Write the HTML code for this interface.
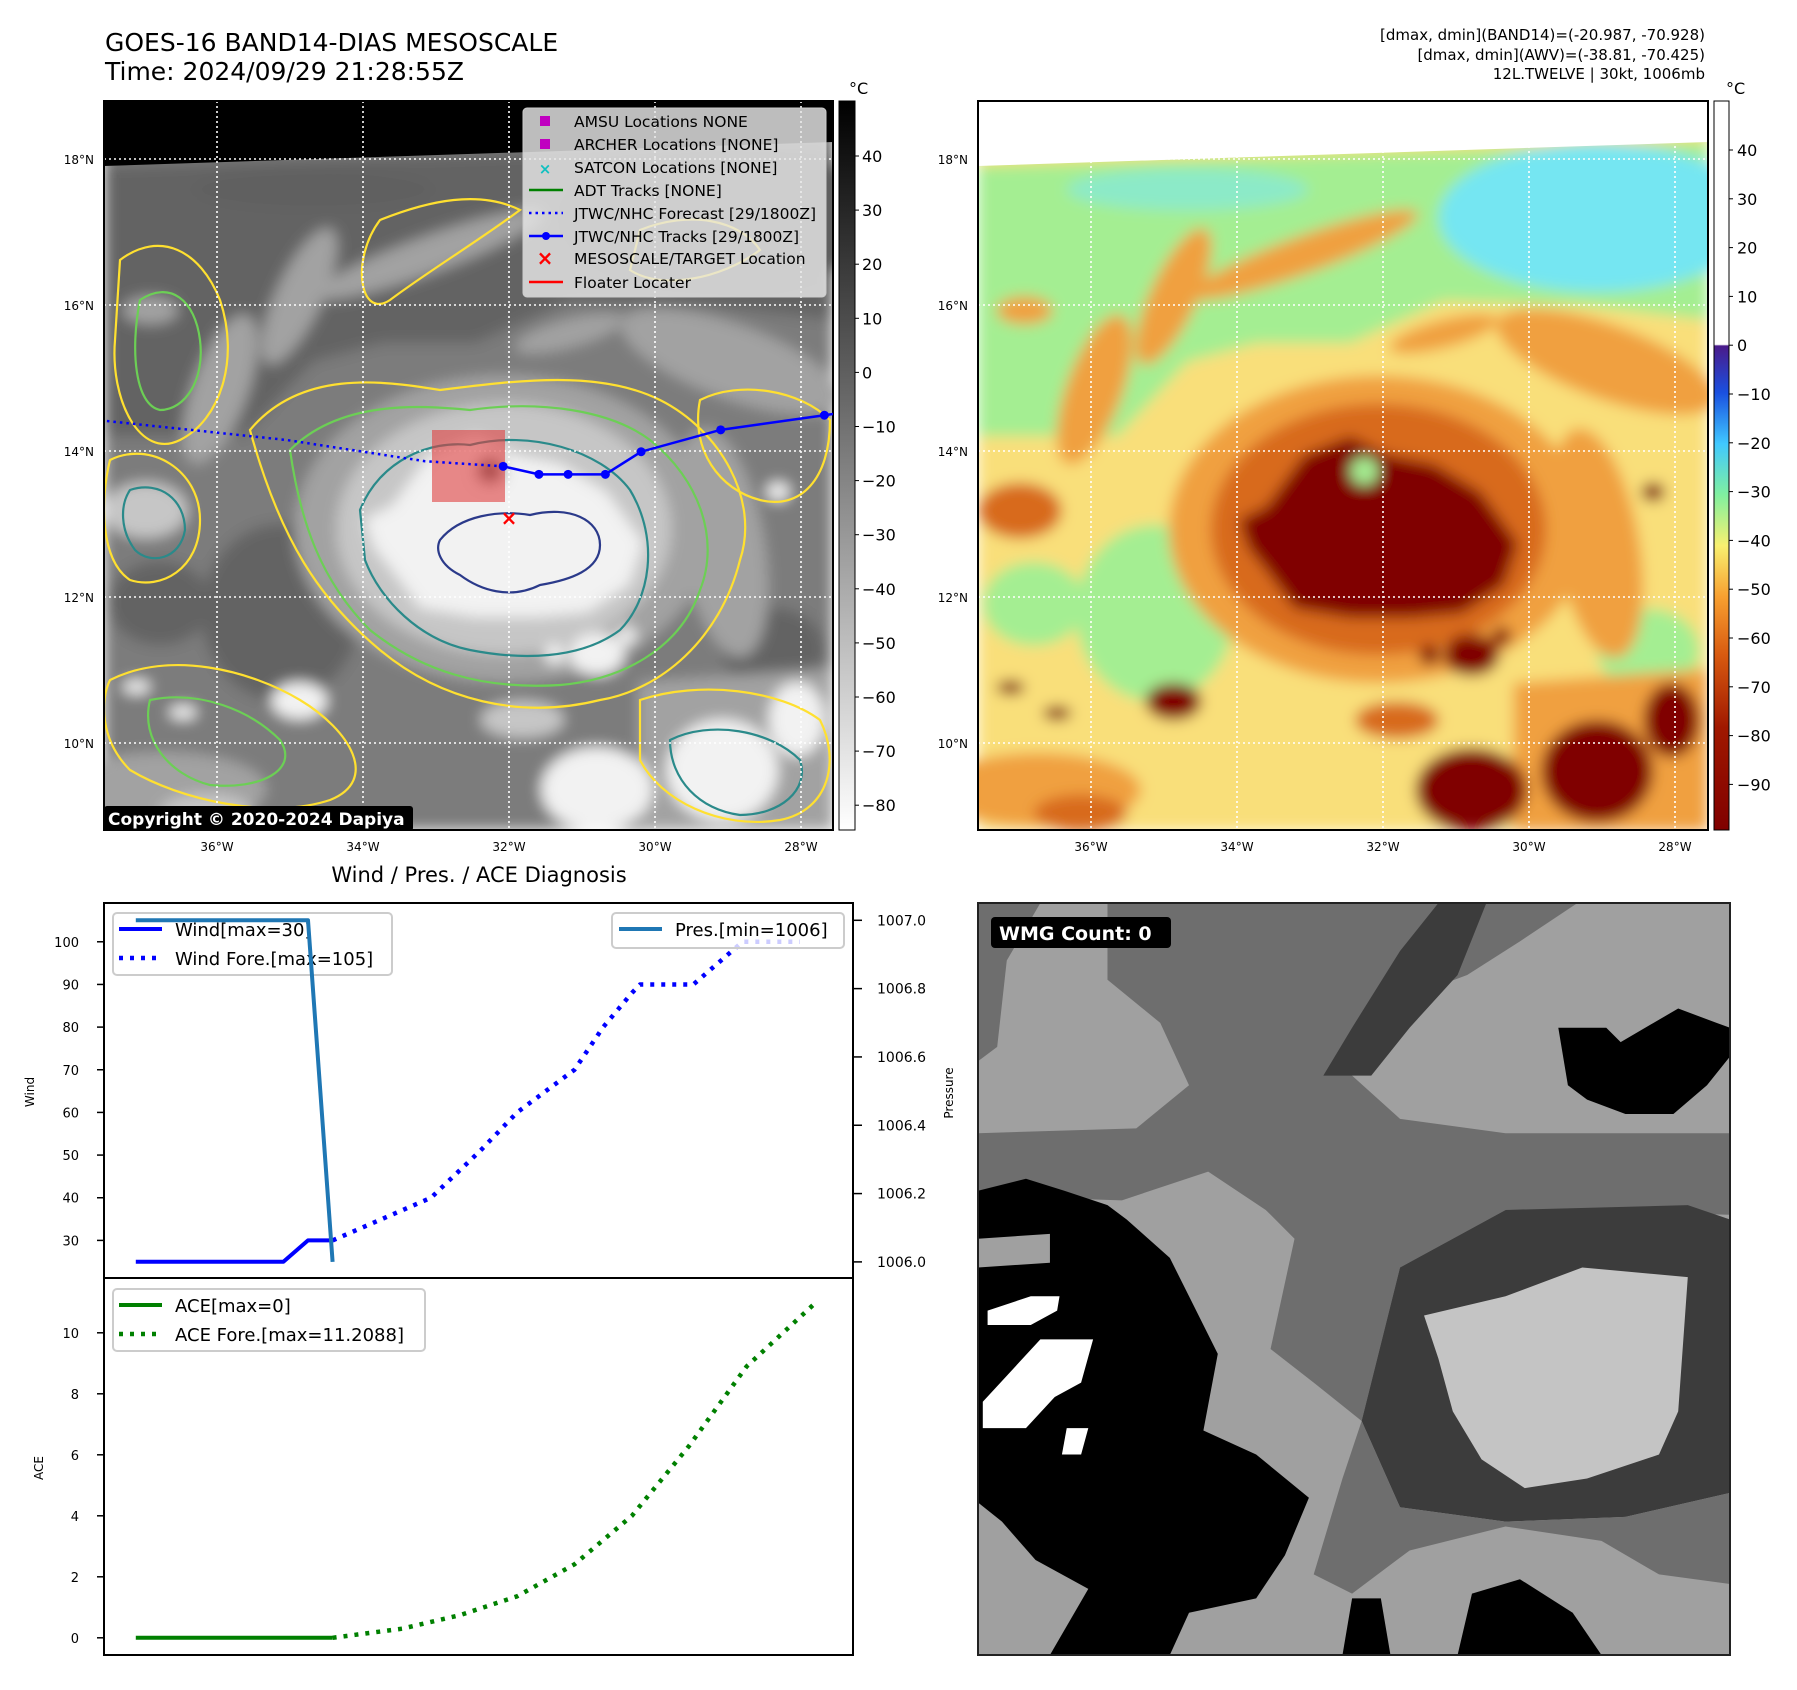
<!DOCTYPE html>
<html><head><meta charset="utf-8">
<style>
html,body{margin:0;padding:0;background:#fff;}
svg{display:block;font-family:"DejaVu Sans","Liberation Sans",sans-serif;}
</style></head>
<body>
<svg id="fig" width="1797" height="1690" viewBox="0 0 1797 1690" xmlns="http://www.w3.org/2000/svg">
<defs>
  <clipPath id="clipM1"><rect x="104" y="101" width="729" height="729"/></clipPath>
  <clipPath id="clipM2"><rect x="978" y="101" width="730" height="729"/></clipPath>
  <clipPath id="clipBR"><rect x="978" y="903" width="752" height="752"/></clipPath>
  <clipPath id="clipW"><rect x="104" y="903" width="749" height="375"/></clipPath>
  <clipPath id="clipA"><rect x="104" y="1278" width="749" height="377"/></clipPath>
  <filter id="blur" x="-5%" y="-5%" width="110%" height="110%"><feGaussianBlur stdDeviation="7"/></filter>
  <linearGradient id="cb1" x1="0" y1="0" x2="0" y2="1">
    <stop offset="0" stop-color="#000"/><stop offset="1" stop-color="#fff"/>
  </linearGradient>
  <linearGradient id="cb2" x1="0" y1="0" x2="0" y2="1">
    <stop offset="0" stop-color="#fff"/>
    <stop offset="0.334" stop-color="#fff"/>
    <stop offset="0.336" stop-color="#4a1a8a"/>
    <stop offset="0.40" stop-color="#1a50e0"/>
    <stop offset="0.47" stop-color="#40c8ff"/>
    <stop offset="0.54" stop-color="#80f0a0"/>
    <stop offset="0.61" stop-color="#f8f070"/>
    <stop offset="0.68" stop-color="#f8a030"/>
    <stop offset="0.76" stop-color="#d85a10"/>
    <stop offset="0.86" stop-color="#a01800"/>
    <stop offset="1" stop-color="#800000"/>
  </linearGradient>
</defs>

<text x="105" y="51" font-size="25">GOES-16 BAND14-DIAS MESOSCALE</text>
<text x="105" y="80" font-size="25">Time: 2024/09/29 21:28:55Z</text>
<text x="1705" y="40" font-size="15" text-anchor="end">[dmax, dmin](BAND14)=(-20.987, -70.928)</text>
<text x="1705" y="60" font-size="15" text-anchor="end">[dmax, dmin](AWV)=(-38.81, -70.425)</text>
<text x="1705" y="79" font-size="15" text-anchor="end">12L.TWELVE | 30kt, 1006mb</text>

<g>
  <g clip-path="url(#clipM1)"><g id="m1img" filter="url(#blur)"></g><g id="m1top"></g><g id="m1cont"></g><g id="m1grid"></g></g>
  <rect x="104" y="101" width="729" height="729" fill="none" stroke="#000" stroke-width="2"/>
</g>
<g>
  <g clip-path="url(#clipM2)"><g id="m2img" filter="url(#blur)"></g><g id="m2top"></g><g id="m2grid"></g></g>
  <rect x="978" y="101" width="730" height="729" fill="none" stroke="#000" stroke-width="2"/>
</g>
<g id="axlabels"></g>

<rect x="839" y="101" width="16" height="729" fill="url(#cb1)" stroke="#000" stroke-width="1"/>
<text x="849" y="94" font-size="16">°C</text>
<rect x="1714" y="101" width="15" height="729" fill="url(#cb2)" stroke="#000" stroke-width="1"/>
<text x="1726" y="94" font-size="16">°C</text>
<g id="cbticks"></g>

<g clip-path="url(#clipM1)" id="trackg"></g>

<g>
  <rect x="523" y="108" width="303" height="189" rx="4" fill="#e6e6e6" fill-opacity="0.82" stroke="#ccc"/>
  <rect x="540" y="116" width="10" height="10" fill="#c000c0"/>
  <text x="574" y="127" font-size="15.5">AMSU Locations NONE</text>
  <rect x="540" y="139" width="10" height="10" fill="#c000c0"/>
  <text x="574" y="150" font-size="15.5">ARCHER Locations [NONE]</text>
  <text x="545" y="174" font-size="15" fill="#10c0c0" text-anchor="middle" font-weight="bold">×</text>
  <text x="574" y="173" font-size="15.5">SATCON Locations [NONE]</text>
  <line x1="529" y1="190" x2="563" y2="190" stroke="#008000" stroke-width="2.5"/>
  <text x="574" y="196" font-size="15.5">ADT Tracks [NONE]</text>
  <line x1="529" y1="213" x2="563" y2="213" stroke="#0000ff" stroke-width="2.5" stroke-dasharray="2.5 4"/>
  <text x="574" y="219" font-size="15.5">JTWC/NHC Forecast [29/1800Z]</text>
  <line x1="529" y1="236" x2="563" y2="236" stroke="#0000ff" stroke-width="2.5"/>
  <circle cx="546" cy="236" r="4" fill="#0000ff"/>
  <text x="574" y="242" font-size="15.5">JTWC/NHC Tracks [29/1800Z]</text>
  <text x="545" y="265" font-size="20" fill="#ff0000" text-anchor="middle" font-weight="bold">×</text>
  <text x="574" y="264" font-size="15.5">MESOSCALE/TARGET Location</text>
  <line x1="529" y1="282" x2="563" y2="282" stroke="#ff0000" stroke-width="2.5"/>
  <text x="574" y="288" font-size="15.5">Floater Locater</text>
</g>
<g>
  <rect x="104" y="806" width="309" height="25" rx="3" fill="#000"/>
  <text x="108" y="825" font-size="17" font-weight="bold" fill="#fff">Copyright © 2020-2024 Dapiya</text>
</g>

<g>
  <g clip-path="url(#clipBR)"><g id="brimg"></g></g>
  <rect x="978" y="903" width="752" height="752" fill="none" stroke="#222" stroke-width="2"/>
  <rect x="991" y="917" width="180" height="31" rx="4" fill="#000"/>
  <text x="999" y="940" font-size="19" font-weight="bold" fill="#fff">WMG Count: 0</text>
</g>

<text x="479" y="882" font-size="21" text-anchor="middle">Wind / Pres. / ACE Diagnosis</text>
<g id="charts"></g>
</svg>

<script>
// ---- Chart data ----
const histHours = [-48, -42, -36, -30, -24, -18, -12, -6, 0];
const histWind = [25, 25, 25, 25, 25, 25, 25, 30, 30];
const presHours = [-48, -6, 0];
const presVals = [1007.0, 1007.0, 1006.0];
const foreHours = [0, 12, 24, 36, 45, 59, 66, 73, 75, 88, 100, 114];
const foreWind = [30, 35, 40, 51, 60, 70, 80, 88, 90, 90, 100, 100];
const aceHistHours = [-48, 0];
const aceHistVals = [0, 0];
const aceForeHours = [0, 17, 31, 45, 59, 73, 87, 101, 117.5];
const aceForeVals = [0, 0.3, 0.74, 1.36, 2.41, 4.0, 6.3, 8.9, 10.95];
const windTicks = [30, 40, 50, 60, 70, 80, 90, 100];
const presTicks = [1006.0, 1006.2, 1006.4, 1006.6, 1006.8, 1007.0];
const aceTicks = [0, 2, 4, 6, 8, 10];
const cb1Ticks = [40, 30, 20, 10, 0, -10, -20, -30, -40, -50, -60, -70, -80];
const cb2Ticks = [40, 30, 20, 10, 0, -10, -20, -30, -40, -50, -60, -70, -80, -90];
const lonTicks = [-36, -34, -32, -30, -28];
const latTicks = [18, 16, 14, 12, 10];
const trackLon = [-32.08, -31.59, -31.19, -30.68, -30.19, -29.10, -27.68, -26.9];
const trackLat = [13.79, 13.68, 13.68, 13.68, 13.99, 14.29, 14.49, 14.6];
const foreLon = [-32.08, -33.15, -35.04, -37.6];
const foreLat = [13.79, 13.86, 14.15, 14.42];

const NS = 'http://www.w3.org/2000/svg';
function mk(parent, tag, attrs, txt) {
  const el = document.createElementNS(NS, tag);
  for (const k in attrs) el.setAttribute(k, attrs[k]);
  if (txt !== undefined) el.textContent = txt;
  parent.appendChild(el);
  return el;
}
const xT = t => 332.6 + 4.10 * t;
const yW = w => 1240.4 - (w - 30) * 4.266;
const yP = p => 1261.9 - (p - 1006) * 341.6;
const yA = a => 1637.8 - a * 30.5;
const lonX1 = lon => 509 + (lon + 32) * 73;
const latY = lat => 451 - (lat - 14) * 73;
const cb1Y = v => 156 + (40 - v) * 5.41;
const cb2Y = v => 150 + (40 - v) * 4.88;

const shapes = [
  ['rect', {x:0,y:0,width:1568,height:1568}, 'Y'],
  ['polygon', {points:'0,140 1568,88 1568,470 1300,440 1000,430 800,520 600,520 450,560 300,720 0,720'}, 'G'],
  ['ellipse', {cx:1330,cy:250,rx:340,ry:160}, 'C'],
  ['ellipse', {cx:450,cy:190,rx:260,ry:45}, 'T'],
  ['ellipse', {cx:700,cy:330,rx:260,ry:40,transform:'rotate(-20 700 330)'}, 'O'],
  ['ellipse', {cx:420,cy:420,rx:50,ry:160,transform:'rotate(25 420 420)'}, 'O'],
  ['ellipse', {cx:250,cy:620,rx:60,ry:170,transform:'rotate(20 250 620)'}, 'O'],
  ['ellipse', {cx:1350,cy:560,rx:250,ry:80,transform:'rotate(20 1350 560)'}, 'O'],
  ['ellipse', {cx:100,cy:450,rx:60,ry:30}, 'O'],
  ['ellipse', {cx:1000,cy:500,rx:120,ry:30,transform:'rotate(-15 1000 500)'}, 'O'],
  ['ellipse', {cx:380,cy:1100,rx:170,ry:190}, 'G'],
  ['ellipse', {cx:120,cy:1080,rx:110,ry:90}, 'G'],
  ['ellipse', {cx:1440,cy:1180,rx:110,ry:90}, 'G'],
  ['ellipse', {cx:860,cy:920,rx:450,ry:330}, 'O'],
  ['ellipse', {cx:860,cy:920,rx:360,ry:270}, 'D'],
  ['polygon', {points:'1150,1250 1568,1220 1568,1568 1150,1568'}, 'O'],
  ['ellipse', {cx:130,cy:1480,rx:220,ry:80}, 'O'],
  ['ellipse', {cx:1330,cy:950,rx:90,ry:250,transform:'rotate(-10 1330 950)'}, 'O'],
  ['polygon', {points:'560,900 620,870 700,760 800,720 880,760 980,780 1080,840 1160,950 1130,1040 1040,1100 930,1110 800,1110 680,1090 620,1010 580,960'}, 'R'],
  ['circle', {cx:830,cy:795,r:30}, 'G'],
  ['ellipse', {cx:90,cy:880,rx:90,ry:60}, 'D'],
  ['ellipse', {cx:1060,cy:1190,rx:60,ry:45}, 'R'],
  ['circle', {cx:1125,cy:1150,r:20}, 'R'],
  ['circle', {cx:970,cy:1190,r:22}, 'R'],
  ['ellipse', {cx:420,cy:1290,rx:60,ry:40}, 'R'],
  ['ellipse', {cx:170,cy:1315,rx:30,ry:15}, 'R'],
  ['ellipse', {cx:70,cy:1260,rx:30,ry:15}, 'R'],
  ['ellipse', {cx:900,cy:1330,rx:90,ry:40}, 'D'],
  ['ellipse', {cx:1060,cy:1480,rx:120,ry:90}, 'R'],
  ['ellipse', {cx:1330,cy:1440,rx:120,ry:110}, 'R'],
  ['ellipse', {cx:1490,cy:1330,rx:60,ry:80}, 'R'],
  ['ellipse', {cx:220,cy:1530,rx:100,ry:40}, 'D'],
  ['ellipse', {cx:1450,cy:840,rx:25,ry:20}, 'R']
];
const pal2 = {C:'#74e6f2', T:'#8ceac8', G:'#a4ee92', Y:'#f9df7a', O:'#f0a040', D:'#d86a1c', R:'#800000'};
const pal1 = {C:'#5e5e5e', T:'#606060', G:'#646464', Y:'#7c7c7c', O:'#a2a2a2', D:'#c6c6c6', R:'#f2f2f2'};

function drawImagery(gid, ox, oy, sc, pal) {
  const g = document.getElementById(gid);
  const inner = mk(g, 'g', {transform:`translate(${ox},${oy}) scale(${sc})`});
  shapes.forEach(s => {
    const el = mk(inner, s[0], Object.assign({}, s[1], {fill: pal[s[2]]}));
    
    
  });
}
drawImagery('m1img', 104, 101, 729/1568, pal1);
drawImagery('m2img', 978, 101, 730/1568, pal2);
let topEl = mk(document.getElementById('m1top'), 'polygon', {points:'104,101 833,101 833,142 104,166', fill:'#000'});


topEl = mk(document.getElementById('m2top'), 'polygon', {points:'978,101 1708,101 1708,142 978,166', fill:'#fff'});



const contours = [
  ['#ffe030', 'M250,430 C300,370 380,380 440,390 C520,380 600,370 660,400 C720,430 760,500 740,560 C720,640 660,690 600,700 C520,720 440,700 380,650 C320,600 280,540 250,430 Z'],
  ['#6ccf55', 'M290,450 C340,400 420,405 470,410 C540,400 610,410 650,440 C700,480 720,540 700,590 C680,650 620,680 560,685 C480,690 420,670 370,630 C320,580 300,520 290,450 Z'],
  ['#2a8a8a', 'M360,510 C380,460 430,440 470,445 C530,430 600,450 630,490 C660,540 650,600 620,630 C580,660 520,660 470,650 C420,640 380,600 365,560 Z'],
  ['#2b3a8a', 'M440,540 C460,515 500,510 530,515 C570,505 600,520 600,545 C600,570 570,580 540,585 C510,600 480,590 460,575 C440,565 435,550 440,540 Z'],
  ['#ffe030', 'M120,260 C160,230 200,250 220,300 C240,360 220,420 180,440 C140,460 110,400 115,340 Z'],
  ['#6ccf55', 'M140,300 C170,280 195,300 200,340 C205,380 185,410 160,410 C135,405 130,350 140,300 Z'],
  ['#ffe030', 'M380,220 C430,200 480,190 520,210 C480,240 430,270 390,300 C360,320 350,260 380,220 Z'],
  ['#ffe030', 'M640,230 C690,210 740,220 760,250 C720,280 660,290 630,270 Z'],
  ['#ffe030', 'M110,680 C170,650 250,670 300,700 C350,730 380,780 330,800 C270,820 180,800 130,770 C100,740 100,700 110,680 Z'],
  ['#6ccf55', 'M150,700 C200,690 250,710 280,740 C300,770 260,790 210,785 C170,775 140,740 150,700 Z'],
  ['#ffe030', 'M640,700 C700,680 780,690 820,720 C840,760 830,810 780,820 C720,830 660,800 640,760 Z'],
  ['#2a8a8a', 'M670,740 C710,720 770,730 800,760 C810,790 780,815 740,815 C700,810 670,780 670,740 Z'],
  ['#ffe030', 'M700,400 C740,380 800,390 830,420 C830,480 800,510 760,500 C720,490 690,450 700,400 Z'],
  ['#ffe030', 'M110,460 C150,440 200,470 200,520 C200,570 160,590 130,580 C100,560 100,500 110,460 Z'],
  ['#2a8a8a', 'M130,490 C160,480 185,500 185,530 C180,560 150,565 135,550 C120,530 120,505 130,490 Z']
];
const cg = document.getElementById('m1cont');
contours.forEach(c => {
  const el = mk(cg, 'path', {d:c[1], fill:'none', stroke:c[0], 'stroke-width':2.2});
  
  
});

function grid(gid, ox) {
  const g = document.getElementById(gid);
  lonTicks.forEach(lon => {
    const x = lonX1(lon) + ox;
    const el = mk(g, 'line', {x1:x, y1:101, x2:x, y2:830, stroke:'#fff', 'stroke-width':1.6, 'stroke-dasharray':'2 3'});
    
    
  });
  latTicks.forEach(lat => {
    const y = latY(lat);
    const el = mk(g, 'line', {x1:104+ox, y1:y, x2:833+ox, y2:y, stroke:'#fff', 'stroke-width':1.6, 'stroke-dasharray':'2 3'});
    
    
  });
}
grid('m1grid', 0);
grid('m2grid', 874);
const al = document.getElementById('axlabels');
[0, 874].forEach(ox => {
  lonTicks.forEach(lon => {
    const el = mk(al, 'text', {x:lonX1(lon)+ox, y:851, 'font-size':12, 'text-anchor':'middle'}, Math.abs(lon) + '°W');
    
    
  });
  latTicks.forEach(lat => {
    const el = mk(al, 'text', {x:98+ox-4, y:latY(lat)+5, 'font-size':12, 'text-anchor':'end'}, lat + '°N');
    
    
  });
});
const cbt = document.getElementById('cbticks');
cb1Ticks.forEach(v => {
  const y = cb1Y(v);
  mk(cbt, 'line', {x1:855, y1:y, x2:859, y2:y, stroke:'#000', 'stroke-width':1});
  const el = mk(cbt, 'text', {x:862, y:y+6, 'font-size':16}, v < 0 ? '\u2212' + Math.abs(v) : String(v));
  
  
});
cb2Ticks.forEach(v => {
  const y = cb2Y(v);
  mk(cbt, 'line', {x1:1729, y1:y, x2:1733, y2:y, stroke:'#000', 'stroke-width':1});
  const el = mk(cbt, 'text', {x:1737, y:y+6, 'font-size':16}, v < 0 ? '\u2212' + Math.abs(v) : String(v));
  
  
});

const tg = document.getElementById('trackg');
let box = mk(tg, 'rect', {x:432, y:430, width:73, height:72, fill:'#e04040', 'fill-opacity':0.6});


let fl = mk(tg, 'polyline', {points: foreLon.map((l,i)=>lonX1(l)+','+latY(foreLat[i])).join(' '), fill:'none', stroke:'#0000ff', 'stroke-width':2.5, 'stroke-dasharray':'2.5 4'});


let tl = mk(tg, 'polyline', {points: trackLon.map((l,i)=>lonX1(l)+','+latY(trackLat[i])).join(' '), fill:'none', stroke:'#0000ff', 'stroke-width':2.5});


trackLon.forEach((l,i) => {
  const el = mk(tg, 'circle', {cx:lonX1(l), cy:latY(trackLat[i]), r:4.5, fill:'#0000ff'});
  
  
});
let tx = mk(tg, 'text', {x:lonX1(-32.0), y:latY(13.08)+7, 'font-size':20, 'font-weight':'bold', fill:'#ff0000', 'text-anchor':'middle'}, '×');



const brShapes = [
  ['#a0a0a0', '0,0 1568,0 1568,1568 0,1568'],
  ['#6e6e6e', '270,0 960,0 900,100 780,360 880,450 1100,480 1568,480 1568,650 1100,640 880,760 800,1080 700,1000 610,930 660,700 600,640 480,560 300,620 0,610 0,480 330,470 440,380 380,250 270,160'],
  ['#6e6e6e', '0,0 130,0 60,120 40,300 0,330'],
  ['#6e6e6e', '1060,0 1250,0 1130,80 1020,150 940,180 960,80'],
  ['#3c3c3c', '960,0 1060,0 1000,150 900,260 820,360 720,360 780,260 880,100'],
  ['#3c3c3c', '1100,640 1480,630 1568,660 1568,1230 1350,1280 1100,1290 880,1260 800,1080 880,760'],
  ['#6e6e6e', '800,1080 880,1260 1100,1290 1350,1280 1568,1230 1568,1420 1420,1400 1300,1330 1100,1300 900,1350 780,1440 700,1400 760,1200'],
  ['#c4c4c4', '930,860 1100,820 1260,760 1480,780 1460,1060 1420,1150 1270,1200 1140,1220 1050,1160 990,1060 960,950'],
  ['#000000', '0,600 100,575 180,600 270,630 310,660 400,740 440,820 500,940 470,1100 580,1150 690,1240 640,1360 580,1450 440,1480 400,1568 150,1568 230,1430 120,1370 50,1290 0,1250'],
  ['#a0a0a0', '0,700 150,690 150,750 0,760'],
  ['#ffffff', '20,850 110,820 170,820 165,850 110,880 20,880'],
  ['#ffffff', '10,1040 70,975 130,910 240,910 215,1000 160,1030 100,1095 10,1095'],
  ['#ffffff', '185,1095 230,1095 215,1150 175,1150'],
  ['#000000', '1210,260 1310,260 1340,290 1460,220 1540,250 1568,260 1568,320 1520,380 1450,440 1350,440 1270,410 1230,380'],
  ['#000000', '1030,1440 1130,1410 1240,1480 1300,1568 1000,1568'],
  ['#000000', '780,1450 840,1450 860,1568 760,1568']
];
const brg = mk(document.getElementById('brimg'), 'g', {transform:'translate(978,903) scale(' + (752/1568) + ')'});
brShapes.forEach(s => {
  const el = mk(brg, 'polygon', {points:s[1], fill:s[0]});
  
  
});

// ---- Charts ----
const ch = document.getElementById('charts');
function poly(parent, xs, ys, attrs, name) {
  const el = mk(parent, 'polyline', Object.assign({points: xs.map((x,i)=>x+','+ys[i]).join(' '), fill:'none', 'stroke-linejoin':'round'}, attrs));
  
  
  return el;
}
const wg = mk(ch, 'g', {});


const wgc = mk(wg, 'g', {'clip-path':'url(#clipW)'});
poly(wgc, histHours.map(xT), histWind.map(yW), {stroke:'#0000ff', 'stroke-width':4}, 'wind-history-line');
poly(wgc, foreHours.map(xT), foreWind.map(yW), {stroke:'#0000ff', 'stroke-width':4.5, 'stroke-dasharray':'4 7'}, 'wind-forecast-line');
const wl = mk(wg, 'g', {});


mk(wl, 'rect', {x:113, y:913, width:279, height:62, rx:4, fill:'#fff', 'fill-opacity':0.85, stroke:'#ccc', 'stroke-width':2});
mk(wl, 'line', {x1:119, y1:929, x2:162, y2:929, stroke:'#0000ff', 'stroke-width':4});
mk(wl, 'text', {x:175, y:936, 'font-size':18}, 'Wind[max=30]');
mk(wl, 'line', {x1:119, y1:958, x2:162, y2:958, stroke:'#0000ff', 'stroke-width':4.5, 'stroke-dasharray':'4 7'});
mk(wl, 'text', {x:175, y:965, 'font-size':18}, 'Wind Fore.[max=105]');
// pressure line on top of wind legend (twin axis)
const pgc = mk(wg, 'g', {'clip-path':'url(#clipW)'});
poly(pgc, presHours.map(xT), presVals.map(yP), {stroke:'#1f77b4', 'stroke-width':4}, 'pressure-line');
const pl = mk(wg, 'g', {});


mk(pl, 'rect', {x:612, y:913, width:232, height:35, rx:4, fill:'#fff', 'fill-opacity':0.8, stroke:'#ccc', 'stroke-width':2});
mk(pl, 'line', {x1:619, y1:929, x2:662, y2:929, stroke:'#1f77b4', 'stroke-width':4});
mk(pl, 'text', {x:675, y:936, 'font-size':18}, 'Pres.[min=1006]');
mk(wg, 'rect', {x:104, y:903, width:749, height:375, fill:'none', stroke:'#000', 'stroke-width':2});
windTicks.forEach(v => {
  const y = yW(v);
  mk(wg, 'line', {x1:97, y1:y, x2:104, y2:y, stroke:'#000', 'stroke-width':1.5});
  const el = mk(wg, 'text', {x:79, y:y+5, 'font-size':13, 'text-anchor':'end'}, String(v));
  
  
});
presTicks.forEach(v => {
  const y = yP(v);
  mk(wg, 'line', {x1:853, y1:y, x2:862, y2:y, stroke:'#000', 'stroke-width':1.5});
  const el = mk(wg, 'text', {x:877, y:y+5, 'font-size':14}, v.toFixed(1));
  
  
});
let lab = mk(wg, 'text', {x:0, y:0, 'font-size':12, 'text-anchor':'middle', transform:'translate(34,1092) rotate(-90)'}, 'Wind');


lab = mk(wg, 'text', {x:0, y:0, 'font-size':12, 'text-anchor':'middle', transform:'translate(953,1093) rotate(-90)'}, 'Pressure');



const ag = mk(ch, 'g', {});


const agc = mk(ag, 'g', {'clip-path':'url(#clipA)'});
poly(agc, aceHistHours.map(xT), aceHistVals.map(yA), {stroke:'#008000', 'stroke-width':4}, 'ace-history-line');
poly(agc, aceForeHours.map(xT), aceForeVals.map(yA), {stroke:'#008000', 'stroke-width':4.5, 'stroke-dasharray':'4 7'}, 'ace-forecast-line');
const alg = mk(ag, 'g', {});


mk(alg, 'rect', {x:113, y:1289, width:312, height:62, rx:4, fill:'#fff', 'fill-opacity':0.85, stroke:'#ccc', 'stroke-width':2});
mk(alg, 'line', {x1:119, y1:1305, x2:162, y2:1305, stroke:'#008000', 'stroke-width':4});
mk(alg, 'text', {x:175, y:1312, 'font-size':18}, 'ACE[max=0]');
mk(alg, 'line', {x1:119, y1:1334, x2:162, y2:1334, stroke:'#008000', 'stroke-width':4.5, 'stroke-dasharray':'4 7'});
mk(alg, 'text', {x:175, y:1341, 'font-size':18}, 'ACE Fore.[max=11.2088]');
mk(ag, 'rect', {x:104, y:1278, width:749, height:377, fill:'none', stroke:'#000', 'stroke-width':2});
aceTicks.forEach(v => {
  const y = yA(v);
  mk(ag, 'line', {x1:97, y1:y, x2:104, y2:y, stroke:'#000', 'stroke-width':1.5});
  const el = mk(ag, 'text', {x:79, y:y+5, 'font-size':13, 'text-anchor':'end'}, String(v));
  
  
});
lab = mk(ag, 'text', {x:0, y:0, 'font-size':12, 'text-anchor':'middle', transform:'translate(43,1468) rotate(-90)'}, 'ACE');


</script>
</body></html>
